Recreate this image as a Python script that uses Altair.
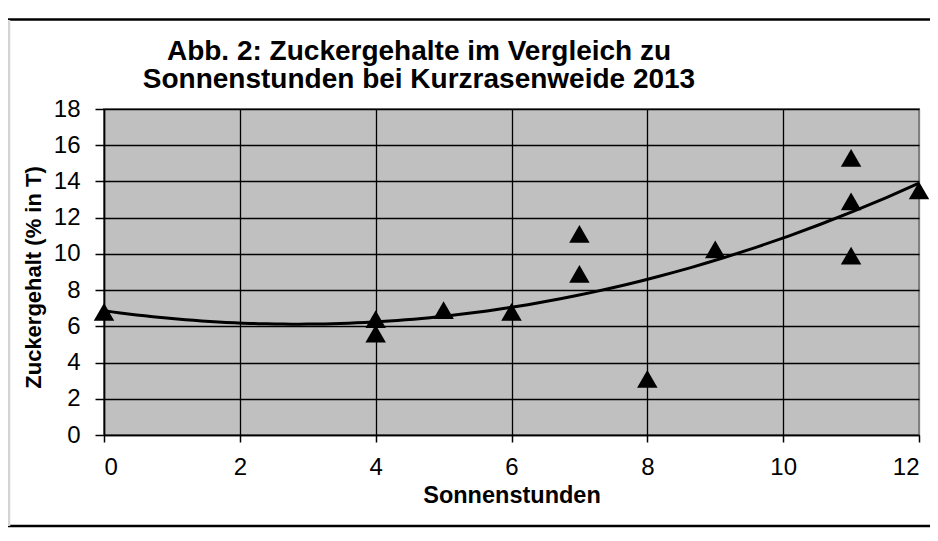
import altair as alt
import pandas as pd

# Data
sonnenstunden = [0, 4, 4, 5, 6, 7, 7, 8, 9, 11, 11, 11, 12]
zuckergehalt = [6.8, 6.4, 5.6, 6.9, 6.8, 11.1, 8.9, 3.1, 10.25, 15.3, 12.9, 9.9, 13.5]
x_ticks = [0, 2, 4, 6, 8, 10, 12]
y_ticks = [0, 2, 4, 6, 8, 10, 12, 14, 16, 18]
title_lines = ["Abb. 2: Zuckergehalte im Vergleich zu", "Sonnenstunden bei Kurzrasenweide 2013"]

df = pd.DataFrame({"Sonnenstunden": sonnenstunden, "Zucker": zuckergehalt})
one = pd.DataFrame({"title": ["\n".join(title_lines)]})

FONT = "Liberation Sans"
W, H = 815, 326

x_enc = alt.X(
    "Sonnenstunden:Q",
    scale=alt.Scale(domain=[0, 12], nice=False, zero=False),
    axis=alt.Axis(
        values=x_ticks, title="Sonnenstunden", format="d",
        tickSize=7, tickColor="black", tickWidth=1.5,
        domainColor="black", domainWidth=1.5,
        labelFont=FONT, labelFontSize=24, labelColor="black", labelPadding=13,
        labelOverlap=False,
        titleFont=FONT, titleFontSize=23.5, titleFontWeight="bold", titleColor="black",
        titleY=48, titleBaseline="top",
        grid=True,
        gridColor={"condition": {"test": "datum.value >= 12", "value": "#808080"}, "value": "black"},
        gridWidth=1.3,
    ),
)
y_enc = alt.Y(
    "Zucker:Q",
    scale=alt.Scale(domain=[0, 18], nice=False),
    axis=alt.Axis(
        values=y_ticks, title="Zuckergehalt (% in T)", format="d",
        tickSize=9, tickColor="black", tickWidth=1.5,
        domainColor="black", domainWidth=1.5,
        labelFont=FONT, labelFontSize=24, labelColor="black", labelPadding=15,
        labelOverlap=False,
        titleFont=FONT, titleFontSize=22, titleFontWeight="bold", titleColor="black",
        titleX=-71, titleY=168, titleAngle=270, titleAlign="center", titleBaseline="middle",
        grid=True, gridColor="black", gridWidth=1.3,
    ),
)

base = alt.Chart(df).encode(x=x_enc, y=y_enc)

trend = base.transform_regression(
    "Sonnenstunden", "Zucker", method="poly", order=2, extent=[0, 12]
).mark_line(color="black", strokeWidth=3)

points = base.mark_point(
    shape="triangle-up", filled=True, color="black", opacity=1, size=420
)

title = alt.Chart(one).mark_text(
    font=FONT, fontSize=28, fontWeight="bold", color="black",
    align="center", baseline="alphabetic", lineBreak="\n", lineHeight=28,
).encode(x=alt.value(315), y=alt.value(-49), text="title:N")

top_line = alt.Chart(one).mark_rule(color="black", strokeWidth=2.5).encode(
    x=alt.value(-96), x2=alt.value(826), y=alt.value(-89.5)
)
bottom_line = alt.Chart(one).mark_rule(color="black", strokeWidth=2.5).encode(
    x=alt.value(-96), x2=alt.value(826), y=alt.value(417)
)
left_line = alt.Chart(one).mark_rule(color="#d4d4d4", strokeWidth=2.5).encode(
    x=alt.value(-95), y=alt.value(-89), y2=alt.value(417)
)

chart = alt.layer(trend, points, title, top_line, bottom_line, left_line).properties(
    width=W, height=H,
    autosize=alt.AutoSizeParams(type="none"),
    padding={"left": 96, "top": 101, "right": 11, "bottom": 93},
    background="white",
).configure_view(
    fill="#C0C0C0", stroke="#808080", strokeWidth=2
)

chart.save("out.html", embed_options={"renderer": "svg", "actions": False})
